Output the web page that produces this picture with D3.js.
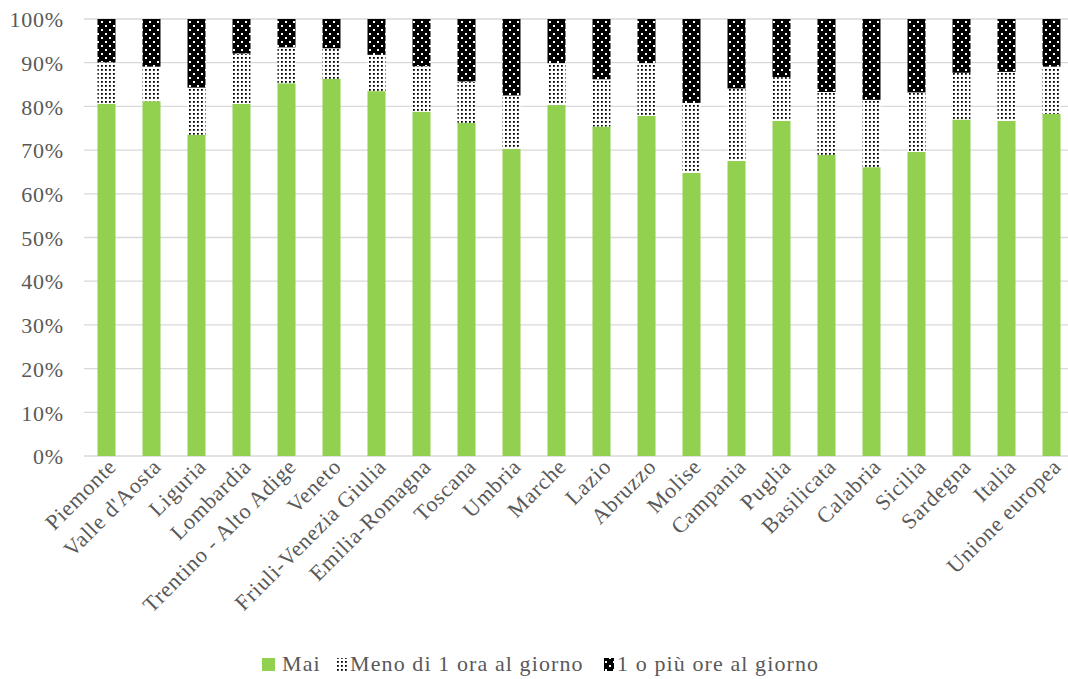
<!DOCTYPE html>
<html><head><meta charset="utf-8">
<script src="https://cdn.jsdelivr.net/npm/d3@7/dist/d3.min.js"></script>
<style>body{margin:0;background:#fff}svg{display:block}text{font-family:"Liberation Serif","Times New Roman",serif;fill:#595959}</style>
</head><body><svg id="c" width="1068" height="679"></svg>
<script>
const categories = ["Piemonte","Valle d'Aosta","Liguria","Lombardia","Trentino - Alto Adige","Veneto","Friuli-Venezia Giulia","Emilia-Romagna","Toscana","Umbria","Marche","Lazio","Abruzzo","Molise","Campania","Puglia","Basilicata","Calabria","Sicilia","Sardegna","Italia","Unione europea"];
const mai   = [80.6,81.2,73.5,80.6,85.3,86.3,83.5,78.8,76.2,70.3,80.3,75.4,77.8,64.8,67.5,76.7,68.9,66.1,69.6,77.0,76.7,78.3];
const meno  = [9.5,7.9,10.8,11.5,8.2,7.0,8.3,10.4,9.5,12.2,9.6,10.8,12.1,16.0,16.6,10.0,14.4,15.4,13.6,10.7,11.2,10.8];
const piu   = [9.9,10.9,15.7,7.9,6.5,6.7,8.2,10.8,14.3,17.5,10.1,13.8,10.1,19.2,15.9,13.3,16.7,18.5,16.8,12.3,12.1,10.9];
const seriesNames = ["Mai","Meno di 1 ora al giorno","1 o più ore al giorno"];
const yTicks = [0,10,20,30,40,50,60,70,80,90,100];

const svg = d3.select("#c");
const defs = svg.append("defs");
const p1 = defs.append("pattern").attr("id","pMeno").attr("patternUnits","userSpaceOnUse").attr("width",4).attr("height",4);
p1.append("rect").attr("width",4).attr("height",4).attr("fill","#fff");
p1.append("rect").attr("x",1).attr("y",1).attr("width",1.8).attr("height",1.8).attr("fill","#000");
const p2 = defs.append("pattern").attr("id","pPiu").attr("patternUnits","userSpaceOnUse").attr("width",8).attr("height",8);
p2.append("rect").attr("width",8).attr("height",8).attr("fill","#000");
p2.append("rect").attr("x",1).attr("y",1).attr("width",2).attr("height",2).attr("fill","#fff");
p2.append("rect").attr("x",5).attr("y",5).attr("width",2).attr("height",2).attr("fill","#fff");
const fills = ["#92d050","url(#pMeno)","url(#pPiu)"];

const mLeft = 84, mRight = 1074, mTop = 19, mBottom = 456;
const x = d3.scaleBand().domain(categories).range([mLeft, mRight]).paddingInner(0.6).paddingOuter(0.3);
const y = d3.scaleLinear().domain([0,100]).range([mBottom, mTop]);

// grid
svg.append("g").selectAll("line").data(yTicks).join("line")
  .attr("x1",mLeft).attr("x2",1068).attr("y1",d=>y(d)).attr("y2",d=>y(d))
  .attr("stroke","#d9d9d9").attr("stroke-width",1.3);

// y axis labels
const yAxis = d3.axisLeft(y).tickValues(yTicks).tickFormat(d=>d+"%").tickSize(0).tickPadding(0);
const ga = svg.append("g").attr("transform",`translate(64,0)`).call(yAxis);
ga.select(".domain").remove();
ga.selectAll("text").style("font-size","22px").style("letter-spacing","0.8px").attr("dy","0.35em");

// stacked bars
const rows = categories.map((c,i)=>({cat:c, a:mai[i], b:meno[i], c2:piu[i]}));
const stack = d3.stack().keys(["a","b","c2"])(rows);
svg.append("g").selectAll("g").data(stack).join("g")
  .attr("fill",(d,i)=>fills[i])
  .selectAll("rect").data(d=>d).join("rect")
  .attr("x",d=>x(d.data.cat)).attr("width",x.bandwidth())
  .attr("y",d=>y(d[1])).attr("height",d=>y(d[0])-y(d[1]));

// x labels
const xAxis = d3.axisBottom(x).tickSize(0).tickPadding(0);
const gx = svg.append("g").attr("transform",`translate(0,${mBottom})`).call(xAxis);
gx.select(".domain").remove();
gx.selectAll("text").style("font-size","22px").style("letter-spacing","0.8px")
  .attr("text-anchor","end").attr("dy",null).attr("y",0)
  .attr("transform","translate(11,12) rotate(-45)");

// legend
const legSq = [262, 337, 604];
const legTx = [282, 350, 617];
const lg = svg.append("g");
seriesNames.forEach((n,i)=>{
  lg.append("rect").attr("x",legSq[i]).attr("y",658).attr("width",i===0?13:10).attr("height",13).attr("fill",fills[i]);
  lg.append("text").attr("x",legTx[i]).attr("y",671).style("font-size","22px").style("letter-spacing","1.1px").text(n);
});
</script></body></html>
